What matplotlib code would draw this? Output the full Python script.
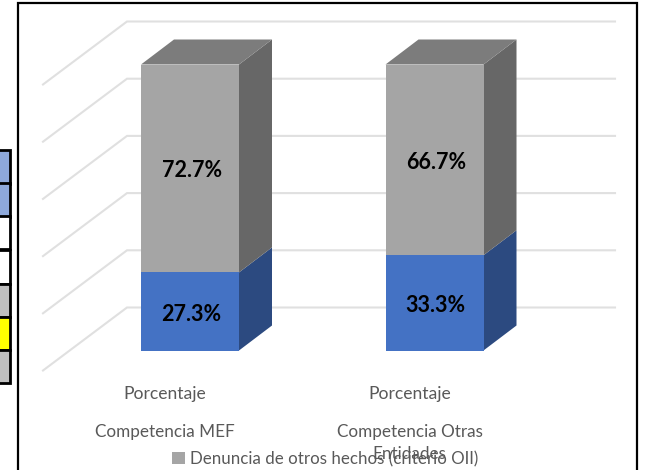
import matplotlib
matplotlib.use("Agg")
import matplotlib.pyplot as plt
from matplotlib.patches import Polygon, Rectangle, Patch

plt.rcParams["font.family"] = ["Lato", "DejaVu Sans"]

W, H = 649, 470

# datos
categorias = ["Competencia MEF", "Competencia Otras\nEntidades"]
serie_nivel = ["Porcentaje", "Porcentaje"]
azul = [27.3, 33.3]
gris = [72.7, 66.7]
grid_vals = [0, 20, 40, 60, 80, 100]
leyenda = "Denuncia de otros hechos (criterio OII)"
tabla_colores = ["#8EA9DB", "#8EA9DB", "#FFFFFF", "#FFFFFF", "#BFBFBF", "#FFFF00", "#BFBFBF"]

# escala: px por categoria y px por punto porcentual
PX_X = 244.5
PX_Y = 2.86
X0, Y0 = 190, 350.5

fig = plt.figure(figsize=(W / 100, H / 100), dpi=100, facecolor="white")
ax = fig.add_axes([0, 0, 1, 1])
ax.set_xlim((0 - X0) / PX_X, (W - X0) / PX_X)
ax.set_ylim((Y0 - H) / PX_Y, Y0 / PX_Y)
ax.axis("off")

ancho = 98 / PX_X
dx = 33 / PX_X
dy = 25 / PX_Y

# paredes: lineas de la cuadricula
fondo_x0 = (127 - X0) / PX_X
fondo_x1 = (615 - X0) / PX_X
izq_x = (43 - X0) / PX_X
off_fondo = (Y0 - 307.5) / PX_Y
off_izq = (Y0 - 370.5) / PX_Y
for v in grid_vals:
    ax.plot([izq_x, fondo_x0, fondo_x1], [v + off_izq, v + off_fondo, v + off_fondo],
            color="#E0E0E0", lw=1.5, zorder=1, solid_joinstyle="miter")


def caja(x, y0, y1, frente, lado, techo=None):
    l, r = x - ancho / 2, x + ancho / 2
    ax.add_patch(Polygon([(r, y0), (r + dx, y0 + dy), (r + dx, y1 + dy), (r, y1)], fc=lado, ec="none", zorder=3))
    if techo:
        ax.add_patch(Polygon([(l, y1), (l + dx, y1 + dy), (r + dx, y1 + dy), (r, y1)], fc=techo, ec="none", zorder=3))
    ax.add_patch(Rectangle((l, y0), ancho, y1 - y0, fc=frente, ec="none", zorder=4))


for i in range(2):
    caja(i, 0, azul[i], "#4472C4", "#2C4A80")
    caja(i, azul[i], azul[i] + gris[i], "#A5A5A5", "#676767", "#7C7C7C")
    ax.text(i + 1 / PX_X, azul[i] / 2 - 1, f"{azul[i]}%", ha="center", va="center",
            fontsize=15.5, fontweight="bold", color="black", zorder=5)
    ax.text(i + 2 / PX_X, azul[i] + gris[i] / 2 - 0.8, f"{gris[i]}%", ha="center", va="center",
            fontsize=15.5, fontweight="bold", color="black", zorder=5)
    # etiquetas de categoria
    xt = i - 25 / PX_X
    ax.text(xt, (Y0 - 393.5) / PX_Y, serie_nivel[i], ha="center", va="center", fontsize=12.6, color="#595959")
    ax.text(xt, (Y0 - 424) / PX_Y, categorias[i], ha="center", va="top", fontsize=12.3,
            color="#595959", linespacing=1.45)

ax.legend(handles=[Patch(fc="#A5A5A5", ec="none", label=leyenda)], loc="center",
          bbox_to_anchor=(325 / W, 1 - 459 / H), frameon=False, fontsize=12.2,
          labelcolor="#595959", handlelength=0.75, handleheight=0.75, handletextpad=0.3,
          borderpad=0, borderaxespad=0)

# marco del grafico y tabla cortada a la izquierda (en pixeles)
tp = fig.transFigure


def px(x, y):
    return x / W, 1 - y / H


fig.add_artist(plt.Line2D([px(18, 0)[0], px(18, 0)[0], px(637, 0)[0], px(637, 0)[0]],
                          [px(0, 470)[1], px(0, 3)[1], px(0, 3)[1], px(0, 470)[1]],
                          color="black", lw=1.6, transform=tp, solid_joinstyle="miter"))
filas = [150, 183.5, 216.5, 249.5, 283.5, 316.5, 349.5, 383]
for k, c in enumerate(tabla_colores):
    x0, y0 = px(-2, filas[k + 1])
    fig.add_artist(Rectangle((x0, y0), 12 / W, (filas[k + 1] - filas[k]) / H, fc=c, ec="black",
                             lw=2.0, transform=tp))

fig.savefig("out.png", dpi=100)
